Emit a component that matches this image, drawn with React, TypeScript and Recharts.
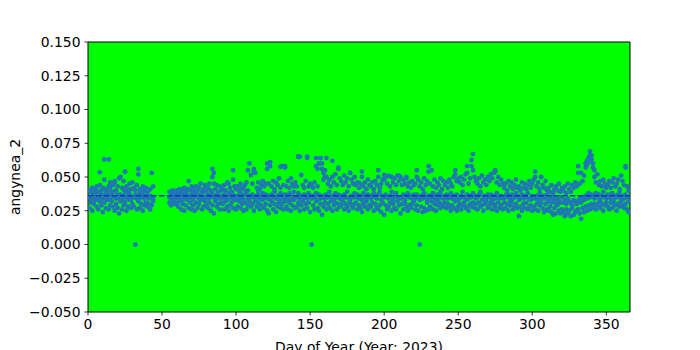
import React from 'react';
import {
  ScatterChart,
  Scatter,
  XAxis,
  YAxis,
  CartesianGrid,
  ReferenceArea,
  Label,
} from 'recharts';

// Daily readings for days 1..365 (null = no reading)
const lowReadings: (number | null)[] = [
  .027,.031,.025,.030,.033,.028,.026,.032,.029,.024,
  .031,.027,.033,.026,.029,.032,.028,.025,.030,.027,
  .023,.032,.026,.029,.031,.025,.028,.033,.027,.030,
  .028,.000,.026,.032,.027,.030,.025,.029,.031,.028,
  .030,.026,.029,.032,null,null,null,null,null,null,
  null,null,null,null,.031,.029,.030,.032,.030,.031,
  .028,.032,.026,.030,.025,.029,.033,.027,.031,.026,
  .029,.025,.031,.027,.030,.033,.026,.028,.032,.029,
  .027,.031,.025,.029,.023,.032,.028,.030,.026,.031,
  .030,.026,.032,.028,.025,.029,.031,.027,.033,.026,
  .028,.032,.027,.030,.025,.031,.026,.029,.032,.028,
  .030,.025,.032,.028,.031,.026,.029,.033,.027,.030,
  .025,.023,.029,.032,.026,.030,.024,.028,.031,.027,
  .030,.026,.032,.028,.026,.031,.025,.029,.033,.027,
  .028,.031,.025,.029,.032,.026,.030,.027,.031,.024,
  .000,.029,.026,.032,.027,.025,.030,.022,.028,.031,
  .026,.030,.027,.032,.025,.029,.031,.026,.030,.028,
  .029,.032,.026,.030,.028,.025,.031,.029,.027,.030,
  .031,.026,.029,.027,.024,.030,.028,.032,.026,.029,
  .028,.031,.025,.030,.027,.026,.029,.024,.031,.022,
  .029,.026,.028,.031,.025,.030,.027,.026,.032,.029,
  .023,.030,.026,.031,.028,.025,.029,.027,.030,.032,
  .026,.029,.025,.000,.028,.024,.027,.025,.031,.026,
  .028,.032,.026,.030,.025,.029,.031,.027,.030,.028,
  .031,.027,.030,.028,.025,.029,.027,.032,.025,.028,
  .030,.026,.029,.031,.027,.028,.025,.030,.028,.031,
  .027,.030,.026,.031,.028,.029,.025,.030,.032,.027,
  .029,.031,.026,.030,.028,.025,.031,.027,.029,.026,
  .031,.027,.030,.025,.029,.031,.026,.028,.030,.027,
  .021,.028,.025,.030,.027,.031,.026,.028,.029,.025,
  .028,.026,.030,.025,.029,.031,.027,.024,.030,.026,
  .025,.028,.024,.022,.027,.023,.029,.025,.023,.026,
  .024,.021,.026,.023,.025,.021,.027,.022,.024,.025,
  .026,.023,.019,.027,.024,.028,.025,.029,.026,.030,
  .027,.030,.026,.029,.031,.027,.030,.025,.029,.031,
  .028,.026,.031,.027,.030,.029,.025,.030,.028,.032,
  .029,.027,.030,.026,.024,
];

const midReadings: (number | null)[] = [
  .035,.033,.038,.034,.036,.039,.033,.035,.037,.034,
  .036,.038,.034,.037,.033,.036,.039,.035,.034,.037,
  .034,.037,.033,.036,.039,.034,.036,.038,.033,.035,
  .035,.037,.034,.033,.038,.035,.037,.034,.036,.035,
  .034,.036,.035,.034,null,null,null,null,null,null,
  null,null,null,null,.035,.034,.036,.035,.034,.036,
  .035,.034,.037,.033,.036,.038,.034,.036,.035,.037,
  .033,.036,.038,.035,.034,.037,.035,.039,.033,.036,
  .037,.034,.036,.038,.035,.033,.037,.035,.034,.036,
  .034,.037,.035,.033,.038,.036,.034,.037,.035,.033,
  .036,.034,.038,.035,.033,.037,.039,.034,.036,.035,
  .037,.035,.034,.036,.039,.034,.036,.038,.035,.037,
  .034,.036,.033,.037,.035,.039,.034,.036,.033,.038,
  .036,.033,.037,.035,.034,.038,.033,.036,.039,.035,
  .035,.038,.034,.036,.033,.037,.035,.034,.038,.036,
  .034,.036,.035,.038,.033,.037,.034,.035,.036,.034,
  .037,.035,.039,.034,.036,.033,.038,.035,.037,.034,
  .036,.034,.037,.035,.039,.034,.033,.036,.035,.038,
  .035,.037,.034,.036,.033,.038,.035,.034,.037,.036,
  .034,.036,.038,.035,.034,.037,.039,.033,.036,.035,
  .037,.035,.034,.036,.039,.033,.036,.038,.035,.034,
  .035,.034,.037,.033,.036,.038,.035,.036,.034,.037,
  .034,.037,.035,.033,.036,.034,.038,.035,.033,.036,
  .036,.034,.038,.035,.033,.037,.034,.039,.036,.034,
  .035,.037,.034,.036,.038,.034,.036,.035,.037,.033,
  .034,.036,.039,.035,.033,.037,.034,.036,.035,.038,
  .036,.034,.035,.037,.039,.033,.036,.035,.034,.037,
  .035,.037,.033,.036,.034,.038,.035,.034,.036,.035,
  .034,.036,.038,.035,.033,.037,.034,.035,.038,.036,
  .033,.035,.037,.034,.036,.035,.038,.034,.033,.036,
  .035,.034,.036,.033,.038,.035,.034,.036,.034,.037,
  .032,.034,.031,.035,.033,.030,.034,.032,.031,.035,
  .031,.033,.030,.034,.032,.031,.029,.033,.032,.030,
  .032,.034,.031,.035,.033,.036,.034,.038,.035,.037,
  .036,.034,.038,.035,.037,.033,.036,.039,.035,.034,
  .037,.035,.034,.038,.033,.036,.035,.037,.039,.034,
  .036,.034,.037,.035,.032,
];

const highReadings: (number | null)[] = [
  .040,.039,.042,.038,.041,.043,.039,.044,.040,.042,
  .048,.041,.040,.043,.042,.039,.044,.046,.040,.043,
  .049,.050,.042,.041,.054,.043,.040,.045,.041,.046,
  .042,.040,.044,.056,.041,.039,.043,.040,.042,.039,
  .040,.041,.053,.043,null,null,null,null,null,null,
  null,null,null,null,.039,.038,.040,.038,.039,.040,
  .039,.041,.038,.040,.042,.039,.041,.047,.040,.043,
  .041,.039,.043,.040,.042,.045,.039,.041,.044,.040,
  .042,.045,.040,.056,.053,.041,.044,.039,.043,.040,
  .041,.044,.040,.046,.045,.042,.039,.055,.043,.041,
  .043,.040,.045,.042,.041,.044,.046,.040,.060,.0515,
  .045,.056,.053,.042,.046,.041,.044,.047,.043,.045,
  .060,.045,.061,.043,.047,.041,.046,.044,.049,.042,
  .058,.044,.058,.043,.047,.042,.049,.045,.043,.046,
  .043,.065,.065,.0515,.044,.042,.047,.065,.043,.045,
  .044,.042,.046,.064,.043,.060,.064,.056,.053,.050,
  .064,.045,.048,.043,.050,.046,.052,.044,.057,.049,
  .047,.044,.051,.046,.049,.043,.053,.048,.045,.050,
  .044,.046,.042,.045,.054,.043,.046,.041,.048,.044,
  .043,.046,.041,.047,.044,.055,.042,.045,.048,.0515,
  .050,.045,.051,.043,.050,.046,.049,.044,.051,.047,
  .050,.044,.048,.045,.049,.043,.046,.042,.047,.044,
  .045,.055,.048,.043,.046,.041,.049,.044,.047,.058,
  .045,.055,.043,.048,.042,.046,.044,.049,.041,.047,
  .044,.046,.042,.048,.045,.043,.050,.055,.047,.049,
  .046,.050,.044,.048,.052,.058,.045,.049,.0626,.067,
  .050,.047,.045,.049,.043,.051,.046,.048,.044,.050,
  .047,.052,.049,.053,.055,.046,.050,.044,.048,.045,
  .042,.045,.040,.047,.043,.046,.041,.044,.048,.042,
  .043,.040,.046,.042,.045,.041,.044,.047,.042,.045,
  .048,.054,.043,.046,.041,.050,.044,.042,.047,.040,
  .042,.039,.044,.038,.041,.043,.040,.045,.039,.042,
  .040,.043,.038,.045,.041,.039,.044,.042,.046,.043,
  .058,.045,.053,.047,.051,.060,.062,.064,.069,.066,
  .057,.050,.046,.052,.044,.047,.043,.048,.045,.042,
  .044,.047,.042,.046,.049,.043,.045,.048,.041,.051,
  .047,.044,.058,.043,.040,
];

// Additional scattered readings
const extraDays: number[] = [
  3, 8, 11, 14, 15, 18, 24, 25, 34, 84, 85, 98, 108, 112, 121, 123, 130, 133,
  142, 148, 154, 155, 157, 158, 159, 160, 161, 165, 169, 177, 185, 196, 200,
  205, 210, 215, 222, 230, 248, 256, 259, 260, 275, 302, 306, 331, 336, 337,
  338, 339, 340, 341, 342, 363,
];
const extraValues: number[] = [
  .042, .0535, .063, .063, .046, .047, .047, .054, .052, .050, .045, .048, .055,
  .054, .056, .058, .0576, .057, .065, .064, .058, .056, .064, .060, .048, .055,
  .050, .062, .056, .053, .050, .050, .048, .050, .051, .050, .050, .054, .052,
  .053, .058, .055, .054, .050, .050, .053, .057, .059, .061, .066, .063, .060,
  .055, .057,
];

const meanValue = 0.0361;
const xTicks = [0, 50, 100, 150, 200, 250, 300, 350];
const yTicks = [-0.05, -0.025, 0, 0.025, 0.05, 0.075, 0.1, 0.125, 0.15];
const xDomain: [number, number] = [0, 366];
const yDomain: [number, number] = [-0.05, 0.15];

const POINT_COLOR = '#1f77b4';
const MEAN_COLOR = '#1432c8';
const FONT = '"DejaVu Sans", sans-serif';

type Pt = { day: number; value: number };
const daily = (vals: (number | null)[]): Pt[] => {
  const out: Pt[] = [];
  vals.forEach((v, i) => {
    if (v !== null) out.push({ day: i + 1, value: v });
  });
  return out;
};
const extraPoints: Pt[] = extraDays.map((d, i) => ({ day: d, value: extraValues[i] }));
const meanPoints: Pt[] = [
  { day: xDomain[0], value: meanValue },
  { day: xDomain[1], value: meanValue },
];

const dot = (p: any) => <circle cx={p.cx} cy={p.cy} r={2.4} fill={POINT_COLOR} />;
const noDot = () => <g />;

const fmtY = (v: number) => v.toFixed(3).replace('-', '\u2212');

export default function App() {
  const tickStyle = { fill: '#000', fontSize: 13.9, fontFamily: FONT };
  return (
    <div style={{ position: 'absolute', left: 0, top: 0, width: 700, height: 350, background: '#fff' }}>
      <ScatterChart width={700} height={350} margin={{ top: 42, right: 70, bottom: 0, left: 28 }}>
        <CartesianGrid fill="#00ff00" stroke="none" horizontal={false} vertical={false} />
        <XAxis
          type="number"
          dataKey="day"
          domain={xDomain}
          ticks={xTicks}
          allowDataOverflow
          height={38}
          axisLine={false}
          tickLine={{ stroke: '#000', strokeWidth: 0.8 }}
          tickSize={3.5}
          tickMargin={3.5}
          tick={tickStyle}
          interval={0}
        >
          <Label
            value="Day of Year (Year: 2023)"
            position="insideBottom"
            offset={-1.5}
            style={{ fill: '#000', fontSize: 13.9, fontFamily: FONT }}
          />
        </XAxis>
        <YAxis
          type="number"
          dataKey="value"
          domain={yDomain}
          ticks={yTicks}
          allowDataOverflow
          width={60}
          axisLine={false}
          tickLine={{ stroke: '#000', strokeWidth: 0.8 }}
          tickSize={3.5}
          tickMargin={4}
          tick={tickStyle}
          tickFormatter={fmtY}
          interval={0}
        >
          <Label
            content={() => (
              <text
                x={20}
                y={177}
                transform="rotate(-90, 20, 177)"
                textAnchor="middle"
                fill="#000"
                fontSize={13.9}
                fontFamily={FONT}
              >
                angynea_2
              </text>
            )}
          />
        </YAxis>
        <Scatter data={daily(lowReadings)} shape={dot} isAnimationActive={false} />
        <Scatter data={daily(midReadings)} shape={dot} isAnimationActive={false} />
        <Scatter data={daily(highReadings)} shape={dot} isAnimationActive={false} />
        <Scatter data={extraPoints} shape={dot} isAnimationActive={false} />
        <Scatter
          data={meanPoints}
          shape={noDot}
          line={{ stroke: MEAN_COLOR, strokeWidth: 1.5, strokeDasharray: '5.5 2.4' }}
          isAnimationActive={false}
        />
        <ReferenceArea
          x1={xDomain[0]}
          x2={xDomain[1]}
          y1={yDomain[0]}
          y2={yDomain[1]}
          fill="none"
          stroke="#000"
          strokeWidth={1}
          fillOpacity={0}
        />
      </ScatterChart>
    </div>
  );
}
